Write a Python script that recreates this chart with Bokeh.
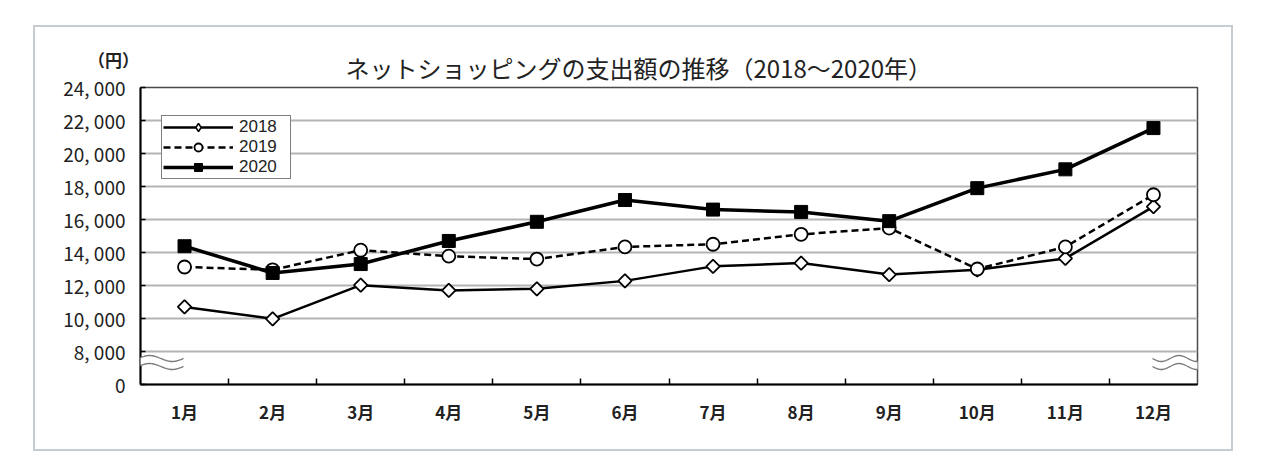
import numpy as np
from bokeh.plotting import figure
from bokeh.models import FixedTicker, Legend, LegendItem, Label, PolyAnnotation, Range1d
from bokeh.embed import file_html
from bokeh.resources import INLINE

months = ["1月", "2月", "3月", "4月", "5月", "6月", "7月", "8月", "9月", "10月", "11月", "12月"]
y2018 = [10700, 9980, 12020, 11700, 11800, 12280, 13160, 13360, 12660, 12950, 13640, 16780]
y2019 = [13120, 12950, 14140, 13780, 13600, 14340, 14500, 15100, 15480, 13000, 14340, 17500]
y2020 = [14380, 12760, 13300, 14700, 15860, 17180, 16600, 16460, 15900, 17900, 19040, 21540]
y_ticks = [6000, 8000, 10000, 12000, 14000, 16000, 18000, 20000, 22000, 24000]
y_tick_labels = ["0", "8, 000", "10, 000", "12, 000", "14, 000", "16, 000", "18, 000", "20, 000", "22, 000", "24, 000"]
series_names = ["2018", "2019", "2020"]
title_text = "ネットショッピングの支出額の推移（2018～2020年）"
unit_text = "（円）"

FONT = "Noto Sans CJK JP"
NARROW = "'Liberation Sans Narrow', 'Liberation Sans', sans-serif"

xs = [i + 0.5 for i in range(len(months))]

p = figure(width=1196, height=422, output_backend="svg", toolbar_location=None,
           x_range=Range1d(0, len(months)), y_range=Range1d(y_ticks[0], y_ticks[-1]),
           min_border_left=105, min_border_right=34, min_border_top=60, min_border_bottom=65,
           margin=(27, 0, 0, 35),
           styles={"outline": "2px solid #c5cdd3"})
p.background_fill_color = "white"
p.border_fill_color = "white"
p.outline_line_color = "#4a4a4a"
p.outline_line_width = 1.5

# axes
p.xaxis.ticker = FixedTicker(ticks=xs, minor_ticks=[i for i in range(1, len(months))])
p.xaxis.major_label_overrides = {x: m for x, m in zip(xs, months)}
p.xaxis.major_tick_line_color = None
p.xaxis.minor_tick_in = 6
p.xaxis.minor_tick_out = 0
p.xaxis.minor_tick_line_width = 1.5
p.xaxis.minor_tick_line_color = "black"
p.xaxis.axis_line_width = 2
p.xaxis.axis_line_color = "black"
p.xaxis.major_label_text_font = FONT
p.xaxis.major_label_text_font_size = "17px"
p.xaxis.major_label_text_font_style = "bold"
p.xaxis.major_label_text_color = "#222222"
p.xaxis.major_label_standoff = 8

p.yaxis.ticker = FixedTicker(ticks=y_ticks, minor_ticks=[])
p.yaxis.major_label_overrides = {t: l for t, l in zip(y_ticks, y_tick_labels)}
p.yaxis.major_tick_in = 5
p.yaxis.major_tick_out = 0
p.yaxis.major_tick_line_width = 1.5
p.yaxis.axis_line_width = 2
p.yaxis.axis_line_color = "black"
p.yaxis.major_label_text_font = FONT
p.yaxis.major_label_text_font_size = "19px"
p.yaxis.major_label_text_color = "#222222"
p.yaxis.major_label_standoff = 15

p.xgrid.grid_line_color = None
p.ygrid.grid_line_color = "#b4b4b4"
p.ygrid.grid_line_width = 2

# series
l18 = p.line(xs, y2018, line_color="black", line_width=2.5)
s18 = p.scatter(xs, y2018, marker="square", angle=np.pi / 4, size=9.5,
                fill_color="white", line_color="black", line_width=1.8)
l19 = p.line(xs, y2019, line_color="black", line_width=2.5, line_dash="7 4")
s19 = p.scatter(xs, y2019, marker="circle", size=13,
                fill_color="white", line_color="black", line_width=1.8)
l20 = p.line(xs, y2020, line_color="black", line_width=3.5)
s20 = p.scatter(xs, y2020, marker="square", size=13,
                fill_color="black", line_color="black", line_width=1)
# legend-only key for the diamond marker (legend glyphs ignore rotation); NaN => not drawn in plot
k18 = p.scatter(np.array([np.nan]), np.array([np.nan]), marker="diamond", size=10,
                fill_color="white", line_color="black", line_width=1.5)

legend = Legend(items=[LegendItem(label=series_names[0], renderers=[l18, k18]),
                       LegendItem(label=series_names[1], renderers=[l19, s19]),
                       LegendItem(label=series_names[2], renderers=[l20, s20])],
                location=(21, 205), orientation="vertical")
legend.border_line_color = "black"
legend.border_line_width = 1.5
legend.background_fill_color = "white"
legend.background_fill_alpha = 1
legend.padding = 1
legend.spacing = 0
legend.glyph_height = 20
legend.glyph_width = 70
legend.label_standoff = 6
legend.label_width = 50
legend.label_height = 20
legend.label_text_font = NARROW
legend.label_text_font_size = "17px"
legend.label_text_color = "#222222"
legend.label_text_baseline = "middle"
p.add_layout(legend, "center")

# texts above the frame (data-positioned labels in the top panel)
px_x = len(months) / 1057.0
px_y = (y_ticks[-1] - y_ticks[0]) / 297.0

p.add_layout(Label(x=205 * px_x, y=y_ticks[-1] + 20 * px_y, text=title_text, text_font=FONT,
                   text_font_size="24px", text_font_style="normal", text_color="#222222",
                   text_baseline="middle", text_align="left"), "above")
p.add_layout(Label(x=-27 * px_x, y=y_ticks[-1] + 28 * px_y, text=unit_text, text_font=FONT,
                   text_font_size="17px", text_font_style="bold", text_color="#222222",
                   text_baseline="middle", text_align="center"), "above")


def wave(x0, x1, yc, n=60):
    t = np.linspace(0, 1, n)
    return list(x0 + t * (x1 - x0)), list(yc + 3 * px_y * np.sin(2 * np.pi * 1.5 * t + np.pi))


for (x0, x1) in [(-25 * px_x, 43 * px_x), (len(months) - 45 * px_x, len(months) + 8 * px_x)]:
    yt = y_ticks[0] + 26 * px_y
    yb = y_ticks[0] + 18 * px_y
    wx, wt = wave(x0, x1, yt)
    _, wb = wave(x0, x1, yb)
    p.add_layout(PolyAnnotation(xs=wx + wx[::-1], ys=wt + wb[::-1], fill_color="white",
                                fill_alpha=1, line_color=None))
    for yc in (yt, yb):
        _, w1 = wave(x0, x1, yc + 0.7 * px_y)
        _, w2 = wave(x0, x1, yc - 0.7 * px_y)
        p.add_layout(PolyAnnotation(xs=wx + wx[::-1], ys=w1 + w2[::-1], fill_color="#7a7a7a",
                                    fill_alpha=1, line_color=None))

open("out.html", "w").write(file_html(p, INLINE))
